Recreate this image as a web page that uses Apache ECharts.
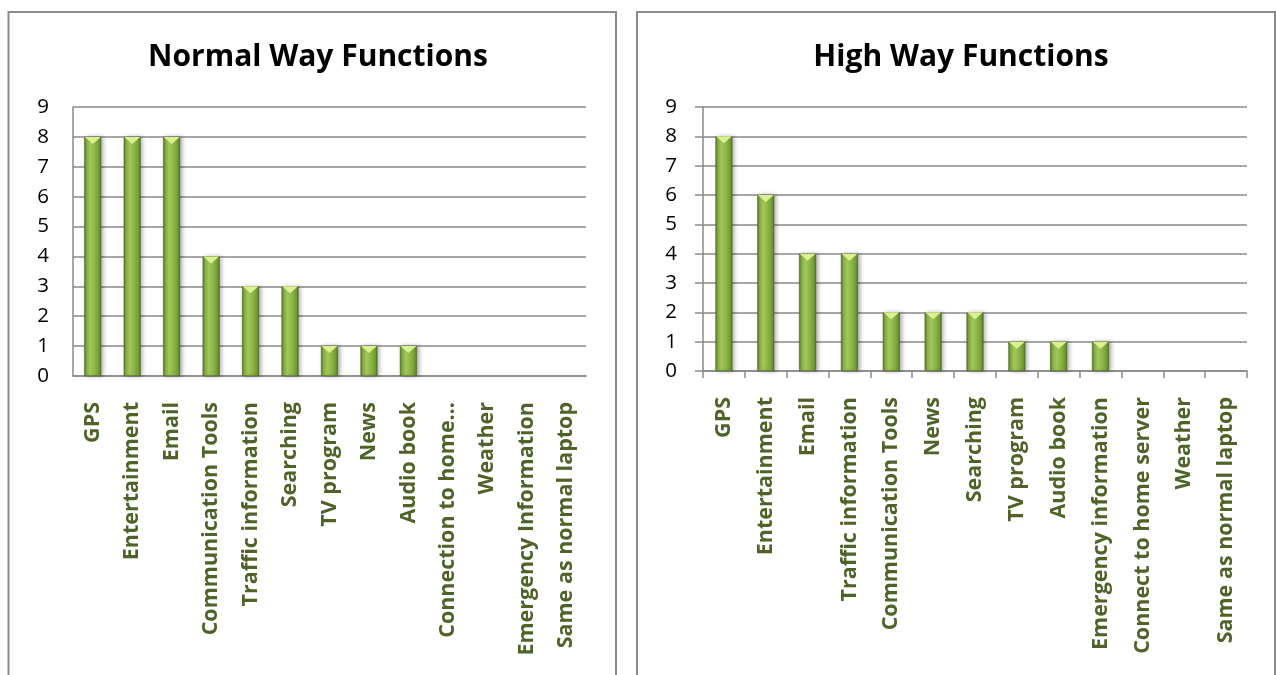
<!DOCTYPE html>
<html>
<head>
<meta charset="utf-8">
<script src="https://cdn.jsdelivr.net/npm/echarts@6/dist/echarts.min.js"></script>
<style>
  html, body { margin: 0; padding: 0; background: #fff; }
  #main { width: 1276px; height: 675px; }
</style>
</head>
<body>
<div id="main"></div>
<script>
// categories and counts
const normalCategories = ['GPS', 'Entertainment', 'Email', 'Communication Tools', 'Traffic information',
    'Searching', 'TV program', 'News', 'Audio book', 'Connection to home…', 'Weather',
    'Emergency Information', 'Same as normal laptop']
const normalValues = [8, 8, 8, 4, 3, 3, 1, 1, 1, 0, 0, 0, 0]

const highCategories = ['GPS', 'Entertainment', 'Email', 'Traffic information', 'Communication Tools',
    'News', 'Searching', 'TV program', 'Audio book', 'Emergency information',
    'Connect to home server', 'Weather', 'Same as normal laptop']
const highValues = [8, 6, 4, 4, 2, 2, 2, 1, 1, 1, 0, 0, 0]

const yTicks = [0, 1, 2, 3, 4, 5, 6, 7, 8, 9]

const FONT = '"Open Sans"'
const GRID_GRAY = '#8a8a8a'
const LABEL_GREEN = '#4f6228'

const chart = echarts.init(document.getElementById('main'))

const barFill = new echarts.graphic.LinearGradient(0, 0, 1, 0, [
    { offset: 0, color: '#55742a' },
    { offset: 0.15, color: '#8cb146' },
    { offset: 0.35, color: '#a3c95d' },
    { offset: 0.65, color: '#8ab343' },
    { offset: 0.88, color: '#739a37' },
    { offset: 1, color: '#4d6a22' }
])

// zero counts get no bar at all (no hairline at the baseline)
const skipZero = arr => arr.map(v => (v > 0 ? v : '-'))

function xAxisFor(idx, cats, ticks) {
    return {
        type: 'category',
        gridIndex: idx,
        data: cats,
        axisLine: { show: true, lineStyle: { color: GRID_GRAY, width: 1.5 } },
        axisTick: { show: ticks, length: 7, lineStyle: { color: GRID_GRAY, width: 1.5 } },
        axisLabel: {
            interval: 0,
            rotate: 90,
            margin: 26,
            color: LABEL_GREEN,
            fontFamily: FONT,
            fontWeight: 'bold',
            fontSize: 21.5
        }
    }
}

function yAxisFor(idx, ticks, margin) {
    return {
        type: 'value',
        gridIndex: idx,
        min: yTicks[0],
        max: yTicks[yTicks.length - 1],
        interval: 1,
        axisLine: { show: true, lineStyle: { color: GRID_GRAY, width: 1.5 } },
        axisTick: { show: ticks, length: 8, lineStyle: { color: GRID_GRAY, width: 1.5 } },
        splitLine: { show: true, lineStyle: { color: GRID_GRAY, width: 1.5 } },
        axisLabel: { color: '#000', fontFamily: FONT, fontSize: 20.5, margin: margin }
    }
}

function barSeries(idx, values) {
    return {
        type: 'bar',
        xAxisIndex: idx,
        yAxisIndex: idx,
        barWidth: 17,
        data: skipZero(values),
        itemStyle: {
            color: barFill,
            borderColor: '#4f6a24',
            borderWidth: 0.6,
            shadowColor: 'rgba(0,0,0,0.3)',
            shadowBlur: 4,
            shadowOffsetX: 2
        },
        z: 2
    }
}

function capSeries(idx, values) {
    return {
        type: 'pictorialBar',
        xAxisIndex: idx,
        yAxisIndex: idx,
        symbol: 'path://M0,0 L10,0 L5,5 Z',
        symbolSize: [16, 7],
        symbolPosition: 'end',
        data: skipZero(values),
        itemStyle: { color: '#daf191' },
        z: 3
    }
}

const option = {
    animation: false,
    backgroundColor: '#fff',
    title: [{
        text: 'Normal Way Functions',
        left: 313,
        top: 37,
        textAlign: 'center',
        textStyle: { fontFamily: FONT, fontWeight: 'bold', fontSize: 30, color: '#000' }
    }, {
        text: 'High Way Functions',
        left: 956,
        top: 37,
        textAlign: 'center',
        textStyle: { fontFamily: FONT, fontWeight: 'bold', fontSize: 30, color: '#000' }
    }],
    graphic: [{
        type: 'rect',
        shape: { x: 8.5, y: 12, width: 607.5, height: 700 },
        style: { fill: 'none', stroke: '#8c8c8c', lineWidth: 2 }
    }, {
        type: 'rect',
        shape: { x: 637, y: 12, width: 638, height: 700 },
        style: { fill: 'none', stroke: '#8c8c8c', lineWidth: 2 }
    }],
    grid: [
        { left: 73, top: 107, width: 513, height: 269, outerBoundsMode: 'none' },
        { left: 703, top: 107, width: 544, height: 264, outerBoundsMode: 'none' }
    ],
    xAxis: [
        xAxisFor(0, normalCategories, false),
        xAxisFor(1, highCategories, true)
    ],
    yAxis: [
        yAxisFor(0, false, 24),
        yAxisFor(1, true, 26)
    ],
    series: [
        barSeries(0, normalValues),
        capSeries(0, normalValues),
        barSeries(1, highValues),
        capSeries(1, highValues)
    ]
}

chart.setOption(option)
</script>
</body>
</html>
